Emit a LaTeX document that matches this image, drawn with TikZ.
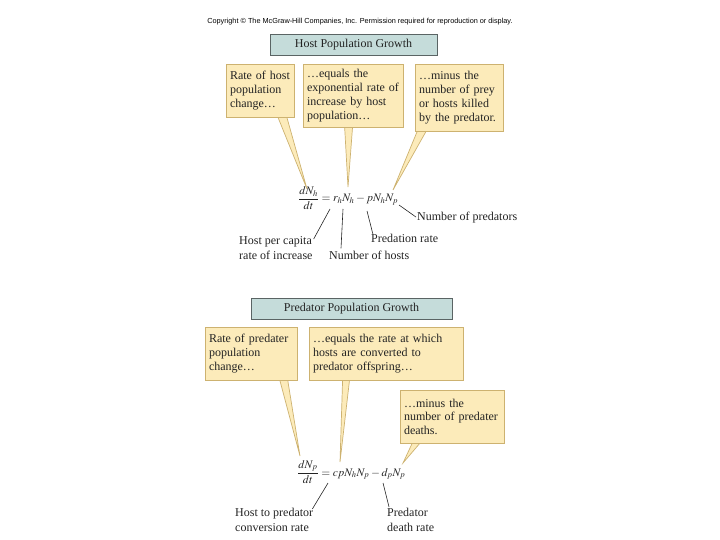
\documentclass[tikz,border=0pt]{standalone}
\usepackage{mathptmx}
\usepackage{fontspec}
\setmainfont{Liberation Serif}
\setsansfont{Liberation Sans}
\usetikzlibrary{backgrounds,calc}
\definecolor{yfill}{RGB}{252,235,186}
\definecolor{yline}{RGB}{205,178,112}
\definecolor{tfill}{RGB}{197,220,218}
\definecolor{tline}{RGB}{90,100,100}
\definecolor{txt}{RGB}{35,35,35}
\newcommand\myboxfont{\fontsize{12}{14}\selectfont}
\newcommand\mylblfont{\fontsize{12}{15}\selectfont}
\begin{document}
\begin{tikzpicture}[x=1pt,y=-1pt,
  ybox/.style={draw=yline, fill=yfill, line width=0.8pt, inner xsep=4pt, inner ysep=0pt, align=left, font=\myboxfont, text=txt},
  tbox/.style={draw=tline, fill=tfill, line width=0.8pt, inner sep=0pt, font=\fontsize{12}{14}\selectfont, text=txt, minimum height=21pt},
  lbl/.style={font=\mylblfont, text=txt, inner sep=0pt, align=left},
  eqn/.style={font=\fontsize{11.5}{13}\selectfont, text=txt, inner sep=0pt},
  tail/.style={fill=yfill, draw=yline, line width=0.7pt},
  ptr/.style={draw=txt, line width=0.6pt}]
\useasboundingbox (0,0) rectangle (720,540);

% copyright
\node[font=\fontsize{7.3}{8}\selectfont\sffamily, text=black, inner sep=0pt] (copy) at (360,22)
  {Copyright © The McGraw-Hill Companies, Inc. Permission required for reproduction or display.};

% ---------- Host population ----------
\node[tbox, minimum width=167pt] (t1) at (353.5,44.5) {Host Population Growth};

\node[ybox, text width=60pt, minimum height=53pt] (b1) at (260,90.5)
  {Rate of host\\population\\change…};
\node[ybox, text width=92pt, minimum height=63pt] (b2) at (353,95.5)
  {…equals the\\exponential rate of\\increase by host\\population…};
\node[ybox, text width=80pt, minimum height=67pt] (b3) at (459,97.5)
  {…minus the\\number of prey\\or hosts killed\\by the predator.};

\node[eqn, anchor=base west] (e1) at (298,202)
  {$\displaystyle\frac{dN_h}{dt} = r_hN_h - pN_hN_p$};

\coordinate (tip1) at (307,189);
\coordinate (tip2) at (348,187);
\coordinate (tip3) at (393,190);

\begin{scope}[on background layer]
  \draw[tail] ($(b1.south west)+(52,-1)$) -- (tip1) -- ($(b1.south west)+(61,-1)$);
  \draw[tail] ($(b2.south west)+(42,-1)$) -- (tip2) -- ($(b2.south west)+(50,-1)$);
  \draw[tail] ($(b3.south west)+(3,-1)$) -- (tip3) -- ($(b3.south west)+(12,-1)$);
\end{scope}

\node[lbl, anchor=base west] (l1) at (417,221) {Number of predators};
\node[lbl, anchor=base west] (l2) at (371,243) {Predation rate};
\node[lbl, anchor=north west] (l3) at (239,236) {Host per capita\\rate of increase};
\node[lbl, anchor=base west] (l4) at (329,259) {Number of hosts};

\coordinate (s1) at (399,205);
\coordinate (s2) at (367,211);
\coordinate (s3) at (330,209);
\coordinate (s4) at (343,209);
\draw[ptr] (s1) -- ($(l1.west)+(-1,-1)$);
\draw[ptr] (s2) -- ($(l2.north west)+(2,0)$);
\draw[ptr] (s3) -- ($(l3.north east)+(1,3)$);
\draw[ptr] (s4) -- ($(l4.north west)+(12,-2)$);

% ---------- Predator population ----------
\node[tbox, minimum width=201pt] (t2) at (351.5,308.5) {Predator Population Growth};

\node[ybox, text width=84pt, minimum height=53pt] (b4) at (251,353.5)
  {Rate of predater\\population\\change…};
\node[ybox, text width=146pt, minimum height=53pt] (b5) at (386,353.5)
  {…equals the rate at which\\hosts are converted to\\predator offspring…};
\node[ybox, text width=96pt, minimum height=53pt, font=\fontsize{12}{13.5}\selectfont] (b6) at (452,416.5)
  {…minus the\\number of predater\\deaths.};

\node[eqn, anchor=base west] (e2) at (297,476)
  {$\displaystyle\frac{dN_p}{dt} = cpN_hN_p - d_pN_p$};

\coordinate (tip4) at (300,456);
\coordinate (tip5) at (340,462);
\coordinate (tip6) at (403,463);

\begin{scope}[on background layer]
  \draw[tail] ($(b4.south west)+(75,-1)$) -- (tip4) -- ($(b4.south west)+(83,-1)$);
  \draw[tail] ($(b5.south west)+(34,-1)$) -- (tip5) -- ($(b5.south west)+(41,-1)$);
  \draw[tail] ($(b6.south west)+(13,-1)$) -- (tip6) -- ($(b6.south west)+(21,-1)$);
\end{scope}

\node[lbl, anchor=north west] (l5) at (235,508) {Host to predator\\conversion rate};
\node[lbl, anchor=north west] (l6) at (387,508) {Predator\\death rate};

\coordinate (s5) at (328,483);
\coordinate (s6) at (383,483);
\draw[ptr] (s5) -- ($(l5.north east)+(-1,1)$);
\draw[ptr] (s6) -- ($(l6.north west)+(2,-1)$);
\end{tikzpicture}
\end{document}
